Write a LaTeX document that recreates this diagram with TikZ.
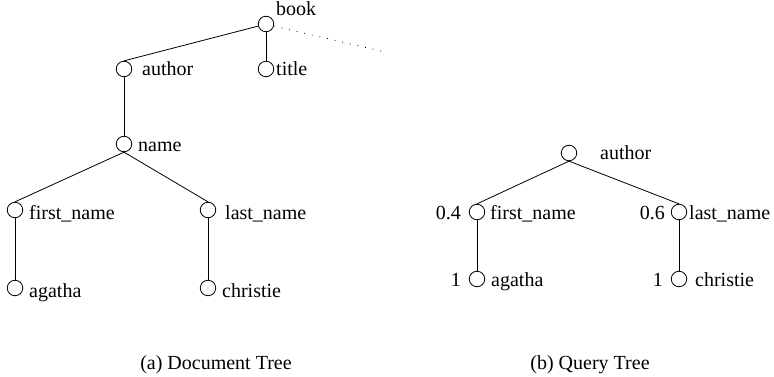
\documentclass[tikz,border=0pt]{standalone}
\usepackage{fontspec}
\setmainfont{Liberation Serif}
\begin{document}
\begin{tikzpicture}[x=1pt,y=-1pt,
  circ/.style={draw,circle,minimum size=15.5pt,inner sep=0pt,line width=0.8pt},
  lbl/.style={anchor=base west,inner sep=0pt,font=\fontsize{20}{24}\selectfont},
  wlbl/.style={anchor=base east,inner sep=0pt,font=\fontsize{20}{24}\selectfont},
  captxt/.style={anchor=base,inner sep=0pt,font=\fontsize{20}{24}\selectfont},
  conn/.style={line width=0.8pt}]
\useasboundingbox (0,0) rectangle (774,377);
% document tree
\node[circ] (book) at (266,24) {};
\node[circ] (author) at (124,69) {};
\node[circ] (title) at (266,69) {};
\node[circ] (name) at (124,144) {};
\node[circ] (first) at (15,210) {};
\node[circ] (last) at (208,210) {};
\node[circ] (agatha) at (15,288) {};
\node[circ] (christie) at (208,288) {};
\coordinate (dotend) at (385,52);
\node[lbl] (lbook) at (276,16) {book};
\node[lbl] (lauthor) at (142,76) {author};
\node[lbl] (ltitle) at (276,76) {title};
\node[lbl] (lname) at (138,152) {name};
\node[lbl] (lfirst) at (29,219) {first\_name};
\node[lbl] (llast) at (225,219) {last\_name};
\node[lbl] (lagatha) at (29,297) {agatha};
\node[lbl] (lchristie) at (222,297) {christie};
\draw[conn] (book.195) -- (author.north);
\draw[conn] (book) -- (title);
\draw[line width=0.8pt,dash pattern=on 0.8pt off 7pt] (book.-15) -- (dotend);
\draw[conn] (author) -- (name);
\draw[conn] (name.south) -- (first.north);
\draw[conn] (name.south) -- (last.north);
\draw[conn] (first) -- (agatha);
\draw[conn] (last) -- (christie);
% query tree
\node[circ] (qauthor) at (569,153) {};
\node[circ] (qfirst) at (477,212) {};
\node[circ] (qlast) at (679,212) {};
\node[circ] (qagatha) at (477,279) {};
\node[circ] (qchristie) at (679,279) {};
\node[lbl] (lqauthor) at (600,160) {author};
\node[lbl] (lqfirst) at (490,219) {first\_name};
\node[lbl] (lqlast) at (689,219) {last\_name};
\node[lbl] (lqagatha) at (491,286) {agatha};
\node[lbl] (lqchristie) at (695,286) {christie};
\node[wlbl] (wfirst) at (461,219) {0.4};
\node[wlbl] (wlast) at (665,219) {0.6};
\node[wlbl] (wagatha) at (461,286) {1};
\node[wlbl] (wchristie) at (663,286) {1};
\draw[conn] (qauthor.south) -- (qfirst.north);
\draw[conn] (qauthor.south) -- (qlast.north);
\draw[conn] (qfirst) -- (qagatha);
\draw[conn] (qlast) -- (qchristie);
% captions
\node[captxt] (capa) at (216,369) {(a) Document Tree};
\node[captxt] (capb) at (590,369) {(b) Query Tree};
\end{tikzpicture}
\end{document}
